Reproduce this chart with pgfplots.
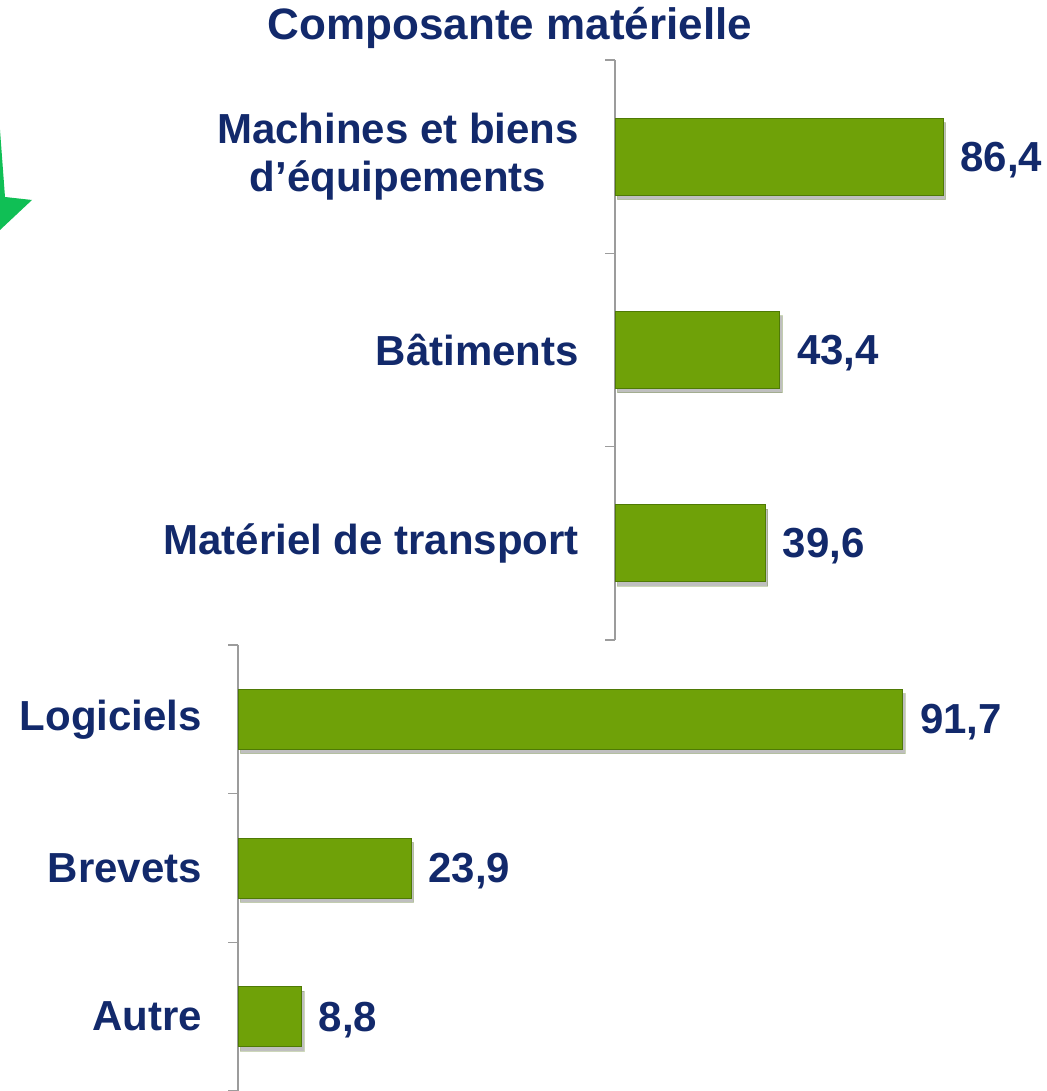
\documentclass[border=0pt]{standalone}
\usepackage{pgfplots}
\pgfplotsset{compat=1.18}
\usepackage{fontspec}
\setmainfont{Liberation Sans}
\usetikzlibrary{shadows}

\definecolor{navy}{HTML}{12296B}
\definecolor{barmain}{HTML}{6FA108}
\definecolor{barlight}{HTML}{A6D845}
\definecolor{bardark}{HTML}{4F7A05}
\definecolor{axgray}{HTML}{9C9C9C}
\definecolor{arrowgreen}{HTML}{10BF55}

\pgfplotsset{
  greenbars/.style={
    xbar, scale only axis,
    y dir=reverse,
    xmin=0, xmax=100,
    ymin=0.5, ymax=3.5,
    axis y line*=left, axis x line=none,
    y axis line style={-, draw=axgray, line width=0.8pt},
    ytick={1,2,3},
    minor ytick={0.5,1.5,2.5,3.5},
    major tick length=0pt, minor tick length=5pt,
    tick align=outside,
    every tick/.style={draw=axgray, line width=0.8pt},
    yticklabel style={align=center, text=navy, xshift=-14.5pt},
    nodes near coords,
    point meta=x,
    /pgf/number format/.cd, fixed, fixed zerofill, precision=1, use comma,
    assume math mode=true,
    /pgfplots/.cd,
    every node near coord/.append style={anchor=west, text=navy, xshift=5pt, yshift=-1.5pt},
  },
  barstyle/.style={fill=barmain, draw=bardark, line width=0.5pt,
    drop shadow={shadow xshift=1.2pt, shadow yshift=-2.2pt, opacity=0.25, fill=black}},
}

\begin{document}
\begin{tikzpicture}[font=\fontsize{21}{24}\selectfont\bfseries]
\useasboundingbox (0,0) rectangle (523.5pt,-545.5pt);

% decorative arrow tip at the left edge
\fill[arrowgreen] (0,-65pt) -- (2.5pt,-98.5pt) -- (16pt,-100pt) -- (0,-115pt) -- cycle;

\node[text=navy, font=\fontsize{22}{26}\selectfont\bfseries] at (255pt,-14pt) {Composante matérielle};

\begin{axis}[greenbars,
  at={(307.5pt,-320pt)}, anchor=south west,
  width=190pt, height=290pt,
  bar width=38.5pt,
  yticklabels={{Machines et biens\\d'équipements},{Bâtiments},{Matériel de transport}},
]
\addplot[barstyle] coordinates {(86.4,1) (43.4,2) (39.6,3)};
\end{axis}

\begin{axis}[greenbars,
  at={(119pt,-545.5pt)}, anchor=south west,
  width=362.5pt, height=223pt,
  bar width=30pt,
  yticklabels={Logiciels,Brevets,Autre},
]
\addplot[barstyle] coordinates {(91.7,1) (23.9,2) (8.8,3)};
\end{axis}
\end{tikzpicture}
\end{document}
